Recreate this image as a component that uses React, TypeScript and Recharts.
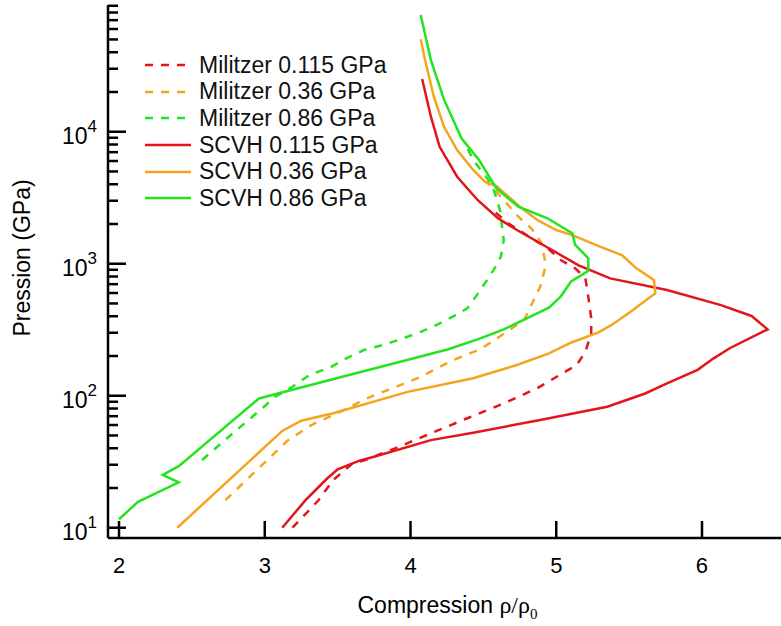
import { LineChart, Line, XAxis, YAxis } from "recharts";

const RED = "#e3151b";
const ORANGE = "#f4a41f";
const GREEN = "#22e41f";
const FONT = '"Liberation Sans", Arial, sans-serif';
const SERIF = '"Liberation Serif", "Times New Roman", serif';

const xTicks = [2, 3, 4, 5, 6];
const yDecades = [10, 100, 1000, 10000];
const yMinorSteps = [2, 3, 4, 5, 6, 7, 8, 9];

// [compression rho/rho0, pressure GPa]
const militzer0115: [number, number][] = [
  [3.19, 10], [3.37, 16.2], [3.47, 23], [3.6, 30.5], [3.69, 32.6], [3.91, 40.6],
  [4.14, 51.9], [4.39, 67.5], [4.64, 87.5], [4.87, 114], [5.14, 171], [5.2, 215],
  [5.24, 297], [5.24, 386], [5.22, 562], [5.2, 774], [5.13, 923], [5.03, 1067],
  [4.93, 1346], [4.88, 1442], [4.67, 2023], [4.55, 2630],
];

const militzer036: [number, number][] = [
  [2.73, 16.2], [3.16, 46.1], [3.32, 60], [3.52, 75.7], [3.7, 95.5], [3.93, 120.5],
  [4.07, 139], [4.29, 186], [4.48, 225], [4.68, 315], [4.78, 375], [4.84, 515],
  [4.89, 670], [4.92, 895], [4.92, 1100], [4.9, 1430], [4.83, 1850], [4.74, 2270],
  [4.68, 2700], [4.58, 3610], [4.52, 4180],
];

const militzer086: [number, number][] = [
  [2.57, 32.6], [2.82, 56.6], [2.97, 78], [3.07, 98], [3.19, 117], [3.31, 144],
  [3.45, 164], [3.56, 192], [3.68, 222], [3.81, 242], [3.93, 267], [4.07, 305],
  [4.18, 344], [4.29, 397], [4.39, 459], [4.48, 632], [4.57, 895], [4.62, 1130],
  [4.64, 1510], [4.63, 1800], [4.62, 2410], [4.59, 3130], [4.56, 3950], [4.5, 4840],
  [4.43, 6110], [4.38, 7930],
];

const scvh0115: [number, number][] = [
  [3.12, 10], [3.28, 16.2], [3.43, 23.7], [3.5, 27.7], [3.65, 32.2], [3.75, 34.5],
  [4.14, 46.1], [4.43, 52.5], [4.89, 65.5], [5.35, 82.6], [5.61, 104], [5.76, 124],
  [5.97, 157], [6.08, 192], [6.19, 229], [6.45, 318], [6.34, 402], [6.13, 486],
  [5.76, 632], [5.37, 774], [5.15, 977], [4.89, 1430], [4.73, 1800], [4.6, 2210],
  [4.46, 3040], [4.32, 4560], [4.2, 7690], [4.14, 13000], [4.08, 25100],
];

const scvh036: [number, number][] = [
  [2.4, 10], [3.12, 54.1], [3.25, 64.7], [3.47, 73.6], [3.98, 107], [4.43, 135.5],
  [4.73, 171], [4.95, 209], [5.1, 252], [5.29, 302], [5.38, 344], [5.51, 433],
  [5.68, 597], [5.67, 753], [5.55, 923], [5.45, 1164], [5.3, 1346], [5.11, 1649],
  [5.0, 1800], [4.87, 2143], [4.75, 2700], [4.59, 3880], [4.51, 4180], [4.43, 5130],
  [4.32, 7260], [4.23, 10900], [4.16, 18400], [4.1, 34900], [4.07, 50100],
];

const scvh086: [number, number][] = [
  [2.0, 11.6], [2.13, 15.7], [2.41, 22.1], [2.3, 25.1], [2.41, 29.3], [2.96, 95.3],
  [3.09, 104], [4.26, 225], [4.48, 272], [4.64, 318], [4.95, 464], [5.03, 562],
  [5.1, 731], [5.22, 885], [5.22, 1100], [5.13, 1387], [5.11, 1700], [4.94, 2210],
  [4.74, 2700], [4.59, 3720], [4.47, 6110], [4.35, 8910], [4.23, 17500],
  [4.14, 34900], [4.07, 76500],
];

const series = [
  { name: "Militzer 0.115 GPa", data: militzer0115, color: RED, dashed: true },
  { name: "Militzer 0.36 GPa", data: militzer036, color: ORANGE, dashed: true },
  { name: "Militzer 0.86 GPa", data: militzer086, color: GREEN, dashed: true },
  { name: "SCVH 0.115 GPa", data: scvh0115, color: RED, dashed: false },
  { name: "SCVH 0.36 GPa", data: scvh036, color: ORANGE, dashed: false },
  { name: "SCVH 0.86 GPa", data: scvh086, color: GREEN, dashed: false },
];

const yTicks = yDecades.flatMap((d) => [d, ...yMinorSteps.map((m) => m * d)]);
const xDomain = [1.9245, 6.5832];
const yDomain = [8.36, 91200];

const AXIS = { stroke: "#000", strokeWidth: 2.5 };

function LeftTick(props: any) {
  const { x, y, payload } = props;
  const major = yDecades.includes(payload.value);
  const exp = Math.round(Math.log10(payload.value));
  return (
    <g>
      <line x1={x} x2={x + (major ? 18 : 10)} y1={y} y2={y} {...AXIS} />
      {major && (
        <text x={x - 11} y={y + 12} textAnchor="end" fontSize={23} fontFamily={FONT} fill="#000">
          <tspan>10</tspan>
          <tspan dy={-11.5} fontSize={17}>{exp}</tspan>
        </text>
      )}
    </g>
  );
}

function RightTick(props: any) {
  const { x, y, payload } = props;
  const major = yDecades.includes(payload.value);
  return <line x1={x} x2={x - (major ? 18 : 10)} y1={y} y2={y} {...AXIS} />;
}

function BottomTick(props: any) {
  const { x, y, payload } = props;
  return (
    <g>
      <line x1={x} x2={x} y1={y} y2={y - 17} {...AXIS} />
      <text x={x} y={y + 35} textAnchor="middle" fontSize={22} fontFamily={FONT} fill="#000">
        {payload.value}
      </text>
    </g>
  );
}

function TopTick(props: any) {
  const { x, y } = props;
  return <line x1={x} x2={x} y1={y} y2={y + 18} {...AXIS} />;
}

function XTitle(props: any) {
  const vb = props.viewBox || { x: 108, y: 538, width: 679 };
  return (
    <text x={vb.x + vb.width / 2} y={vb.y + 75} textAnchor="middle" fontSize={23} fontFamily={FONT} fill="#000">
      <tspan>Compression </tspan>
      <tspan fontFamily={SERIF} fontSize={24}>ρ/ρ</tspan>
      <tspan fontFamily={SERIF} fontSize={15} dy={6}>0</tspan>
    </text>
  );
}

function YTitle() {
  return (
    <text
      x={29.5}
      y={258}
      transform="rotate(-90, 29.5, 258)"
      textAnchor="middle"
      fontSize={23}
      fontFamily={FONT}
      fill="#000"
    >
      Pression (GPa)
    </text>
  );
}

export default function App() {
  return (
    <div
      style={{
        position: "absolute",
        left: 0,
        top: 0,
        width: 781,
        height: 626,
        overflow: "hidden",
        background: "#fff",
      }}
    >
      <LineChart width={790} height={626} margin={{ top: 5, right: 3, bottom: 0, left: 0 }}>
        <XAxis
          xAxisId={0}
          type="number"
          dataKey="x"
          domain={xDomain}
          allowDataOverflow
          ticks={xTicks}
          interval={0}
          height={88}
          tickSize={0}
          tickMargin={0}
          axisLine={AXIS}
          tickLine={false}
          tick={<BottomTick />}
          label={<XTitle />}
        />
        <XAxis
          xAxisId="top"
          orientation="top"
          type="number"
          dataKey="x"
          domain={xDomain}
          allowDataOverflow
          ticks={xTicks}
          interval={0}
          height={0}
          tickSize={0}
          tickMargin={0}
          axisLine={AXIS}
          tickLine={false}
          tick={<TopTick />}
        />
        <YAxis
          yAxisId={0}
          type="number"
          scale="log"
          domain={yDomain}
          allowDataOverflow
          ticks={yTicks}
          interval={0}
          width={108}
          tickSize={0}
          tickMargin={0}
          axisLine={AXIS}
          tickLine={false}
          tick={<LeftTick />}
          label={<YTitle />}
        />
        <YAxis
          yAxisId="right"
          orientation="right"
          type="number"
          scale="log"
          domain={yDomain}
          allowDataOverflow
          ticks={yTicks}
          interval={0}
          width={0}
          tickSize={0}
          tickMargin={0}
          axisLine={AXIS}
          tickLine={false}
          tick={<RightTick />}
        />
        {series.map((s) => (
          <Line
            key={s.name}
            xAxisId={0}
            yAxisId={0}
            data={s.data.map(([x, y]) => ({ x, y }))}
            dataKey="y"
            name={s.name}
            type="linear"
            stroke={s.color}
            strokeWidth={2.5}
            strokeDasharray={s.dashed ? "8 8" : undefined}
            dot={false}
            activeDot={false}
            isAnimationActive={false}
          />
        ))}
      </LineChart>
      <div style={{ position: "absolute", left: 145, top: 52, fontFamily: FONT, fontSize: 23, color: "#111" }}>
        {series.map((s) => (
          <div key={s.name} style={{ display: "flex", alignItems: "center", height: 26.6 }}>
            <svg width={46} height={6} style={{ marginRight: 8 }}>
              <line
                x1={0}
                x2={46}
                y1={3}
                y2={3}
                stroke={s.color}
                strokeWidth={2.5}
                strokeDasharray={s.dashed ? "8 8" : undefined}
              />
            </svg>
            <span>{s.name}</span>
          </div>
        ))}
      </div>
    </div>
  );
}
